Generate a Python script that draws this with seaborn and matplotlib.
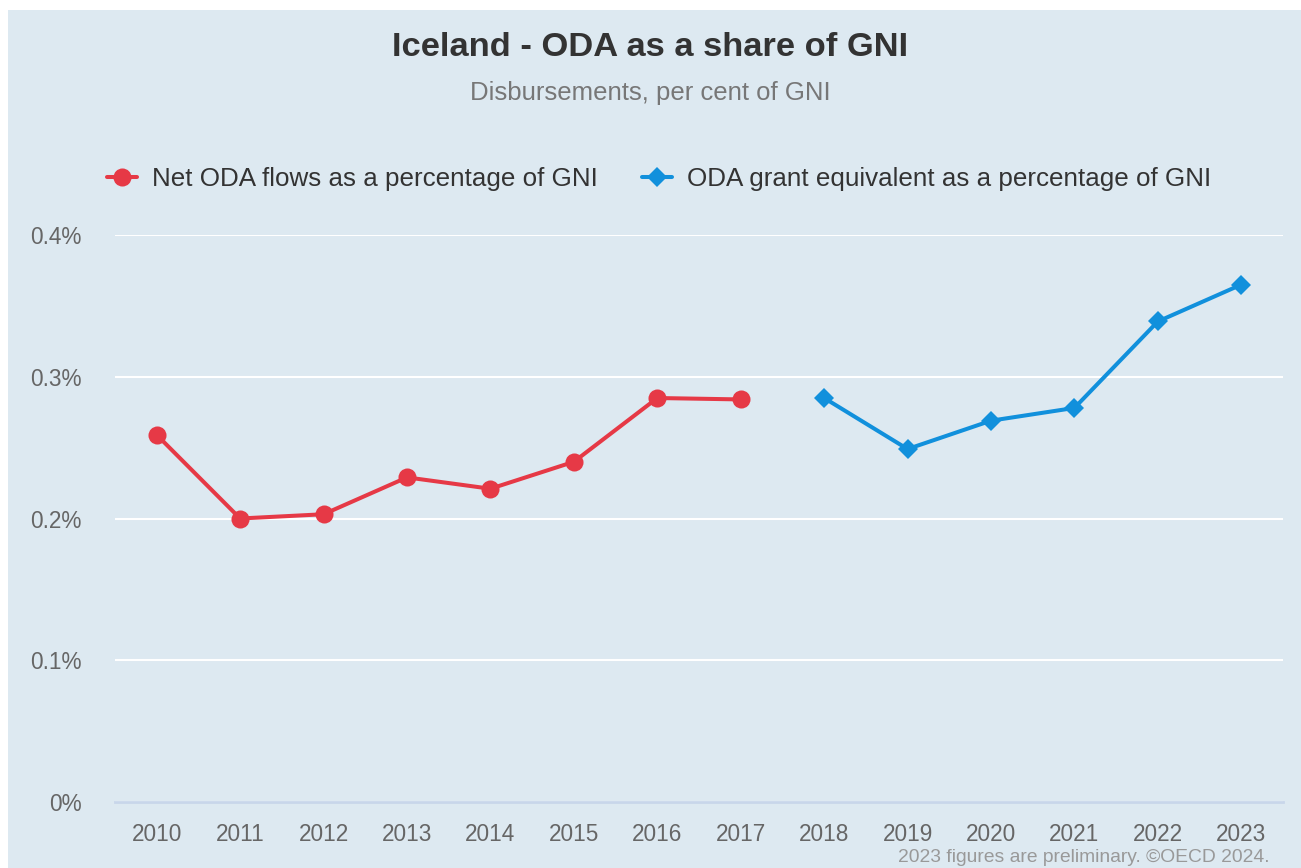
import pandas as pd
import matplotlib.pyplot as plt
import seaborn as sns
from matplotlib.lines import Line2D
from matplotlib.patches import Rectangle

years_net = [2010, 2011, 2012, 2013, 2014, 2015, 2016, 2017]
net_oda = [0.259, 0.200, 0.203, 0.229, 0.221, 0.240, 0.285, 0.284]
years_ge = [2018, 2019, 2020, 2021, 2022, 2023]
ge_oda = [0.285, 0.249, 0.269, 0.278, 0.339, 0.365]
series = ["Net ODA flows as a percentage of GNI",
          "ODA grant equivalent as a percentage of GNI"]
y_ticks = [0, 0.1, 0.2, 0.3, 0.4]
y_labels = ["0%", "0.1%", "0.2%", "0.3%", "0.4%"]

df = pd.concat([
    pd.DataFrame({"year": years_net, "value": net_oda, "series": series[0]}),
    pd.DataFrame({"year": years_ge, "value": ge_oda, "series": series[1]}),
], ignore_index=True)

bg = "#dde9f1"
red = "#e63946"
blue = "#1190dc"

sns.set_style("white")
plt.rcParams['font.family'] = ['Liberation Sans', 'DejaVu Sans']

fig = plt.figure(figsize=(13.01, 8.68), dpi=100)
fig.patch.set_facecolor("white")
fig.patches.append(Rectangle((8 / 1301, 0), 1 - 8 / 1301, 1 - 10 / 868,
                             transform=fig.transFigure, facecolor=bg,
                             edgecolor="none", zorder=-10))
ax = fig.add_axes([115 / 1301, 1 - 802 / 868, 1168 / 1301, 567 / 868])
ax.set_facecolor(bg)

sns.lineplot(data=df, x="year", y="value", hue="series", style="series",
             markers={series[0]: "o", series[1]: "D"}, dashes=False,
             palette={series[0]: red, series[1]: blue},
             linewidth=2.9, markersize=13, markeredgewidth=0,
             legend=False, ax=ax)
# smaller diamonds for the blue series
for line in ax.get_lines():
    if line.get_marker() == "D":
        line.set_markersize(10)

ax.set_xlim(2009.5, 2023.5)
ax.set_ylim(0, 0.4)
ax.set_xticks(years_net + years_ge)
ax.set_yticks(y_ticks)
ax.set_yticklabels(y_labels)
ax.set_xlabel("")
ax.set_ylabel("")
ax.tick_params(axis="both", length=0, labelsize=16.3, labelcolor="#666666")
ax.tick_params(axis="x", pad=15)
ax.tick_params(axis="y", pad=24)
ax.grid(axis="y", color="white", linewidth=1.5)
ax.grid(axis="x", visible=False)
for s in ["top", "right", "left"]:
    ax.spines[s].set_visible(False)
ax.spines["bottom"].set_color("#c8d6ea")
ax.spines["bottom"].set_linewidth(2)
for line in ax.get_lines():
    line.set_clip_on(False)

fig.text(0.5, 1 - 47 / 868, "Iceland - ODA as a share of GNI", ha="center",
         va="center", fontsize=24.8, fontweight="bold", color="#333333")
fig.text(0.5, 1 - 93 / 868, "Disbursements, per cent of GNI", ha="center",
         va="center", fontsize=18.5, color="#777777")
fig.text(1270 / 1301, 1 - 857 / 868, "2023 figures are preliminary. ©OECD 2024.",
         ha="right", va="center", fontsize=13.9, color="#999999")

handles = [
    Line2D([], [], color=red, marker="o", markersize=13, linewidth=2.9, markeredgewidth=0),
    Line2D([], [], color=blue, marker="D", markersize=10, linewidth=2.9, markeredgewidth=0),
]
fig.legend(handles, series, loc="center left", bbox_to_anchor=(84 / 1301, 1 - 179 / 868),
           ncol=2, frameon=False, fontsize=18.7, handlelength=1.15, handletextpad=0.58,
           columnspacing=1.7, labelcolor="#333333")

fig.savefig("out.png", dpi=100, facecolor=fig.get_facecolor())
